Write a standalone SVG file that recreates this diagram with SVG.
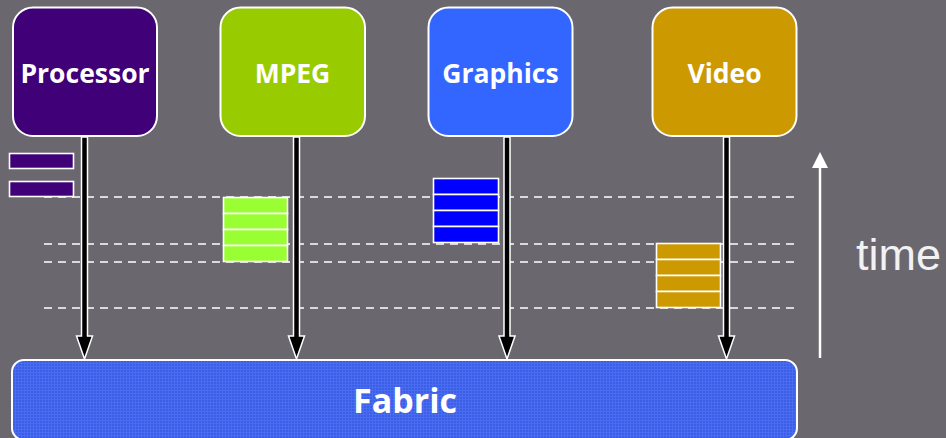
<svg xmlns="http://www.w3.org/2000/svg" width="946" height="438" viewBox="0 0 946 438">
  <defs>
    <style>
      .unit { stroke: #ffffff; stroke-width: 2; }
      .label { font-family: "Open Sans", "Noto Sans", "Liberation Sans", sans-serif; font-weight: bold; fill: #ffffff; text-anchor: middle; }
      .slot { stroke: #ffffff; stroke-width: 1.6; }
      .tick { stroke: #ffffff; stroke-width: 1.6; stroke-dasharray: 8 6; fill: none; }
      .bus { fill: #000000; stroke: #ffffff; stroke-width: 1.5; stroke-linejoin: miter; }
    </style>
    <pattern id="weave" width="3" height="3" patternUnits="userSpaceOnUse">
      <rect width="3" height="3" fill="#3b5ee6"/>
      <rect width="3" height="1" fill="#4a6cf0"/>
      <rect width="1" height="3" fill="#4a6cf0"/>
    </pattern>
  </defs>

  <!-- backdrop -->
  <rect width="946" height="438" fill="#6a676e"/>

  <!-- time slots -->
  <g id="timeline">
    <line class="tick" x1="44" y1="197" x2="796" y2="197"/>
    <line class="tick" x1="44" y1="244" x2="796" y2="244"/>
    <line class="tick" x1="44" y1="262" x2="796" y2="262"/>
    <line class="tick" x1="44" y1="308" x2="796" y2="308"/>
  </g>

  <!-- processor requests -->
  <g id="processor-requests" fill="#3f0078">
    <rect class="slot" x="9.5" y="153.5" width="64" height="15"/>
    <rect class="slot" x="9.5" y="181.5" width="64" height="15"/>
  </g>

  <!-- MPEG requests -->
  <g id="mpeg-requests" fill="#99ff33">
    <rect class="slot" x="223.5" y="197.5" width="64" height="16"/>
    <rect class="slot" x="223.5" y="213.5" width="64" height="16"/>
    <rect class="slot" x="223.5" y="229.5" width="64" height="16"/>
    <rect class="slot" x="223.5" y="245.5" width="64" height="16"/>
  </g>

  <!-- graphics requests -->
  <g id="graphics-requests" fill="#0000ff">
    <rect class="slot" x="433.5" y="178.5" width="65" height="16"/>
    <rect class="slot" x="433.5" y="194.5" width="65" height="16"/>
    <rect class="slot" x="433.5" y="210.5" width="65" height="16"/>
    <rect class="slot" x="433.5" y="226.5" width="65" height="16"/>
  </g>

  <!-- video requests -->
  <g id="video-requests" fill="#cc9900">
    <rect class="slot" x="656.5" y="243.5" width="64" height="16"/>
    <rect class="slot" x="656.5" y="259.5" width="64" height="16"/>
    <rect class="slot" x="656.5" y="275.5" width="64" height="16"/>
    <rect class="slot" x="656.5" y="291.5" width="64" height="16"/>
  </g>

  <!-- connectors: each unit to the fabric -->
  <g id="connectors">
    <polygon class="bus" points="81.5,137 87.5,137 87.5,336 92.5,336 84.5,359 76.5,336 81.5,336"/>
    <polygon class="bus" points="293.5,137 299.5,137 299.5,336 304.5,336 296.5,359 288.5,336 293.5,336"/>
    <polygon class="bus" points="504,137 510,137 510,336 515,336 507,359 499,336 504,336"/>
    <polygon class="bus" points="723.5,137 729.5,137 729.5,336 734.5,336 726.5,359 718.5,336 723.5,336"/>
  </g>

  <!-- units -->
  <g id="processor">
    <rect class="unit" x="13" y="7.5" width="144" height="128.5" rx="20" fill="#3f0078"/>
    <text class="label" x="85" y="83" font-size="26.5">Processor</text>
  </g>
  <g id="mpeg">
    <rect class="unit" x="220.5" y="7.5" width="144.5" height="128.5" rx="20" fill="#99cc00"/>
    <text class="label" x="292.5" y="83" font-size="26.5">MPEG</text>
  </g>
  <g id="graphics">
    <rect class="unit" x="428.5" y="7.5" width="144" height="128.5" rx="20" fill="#3366ff"/>
    <text class="label" x="500.5" y="83" font-size="26.5">Graphics</text>
  </g>
  <g id="video">
    <rect class="unit" x="652.5" y="7.5" width="144" height="128.5" rx="20" fill="#cc9900"/>
    <text class="label" x="724.5" y="83" font-size="26.5">Video</text>
  </g>

  <g id="fabric">
    <rect class="unit" x="12" y="360" width="785" height="80" rx="12" fill="url(#weave)"/>
    <text class="label" x="405" y="413" font-size="34">Fabric</text>
  </g>

  <!-- time axis -->
  <g id="time-axis">
    <line x1="820" y1="358" x2="820" y2="166" stroke="#ffffff" stroke-width="2.5"/>
    <polygon points="820,152 828,168 812,168" fill="#ffffff"/>
    <text x="856" y="270" font-family="Liberation Sans, Arial, sans-serif" font-size="45" fill="#f2f2f2">time</text>
  </g>
</svg>
